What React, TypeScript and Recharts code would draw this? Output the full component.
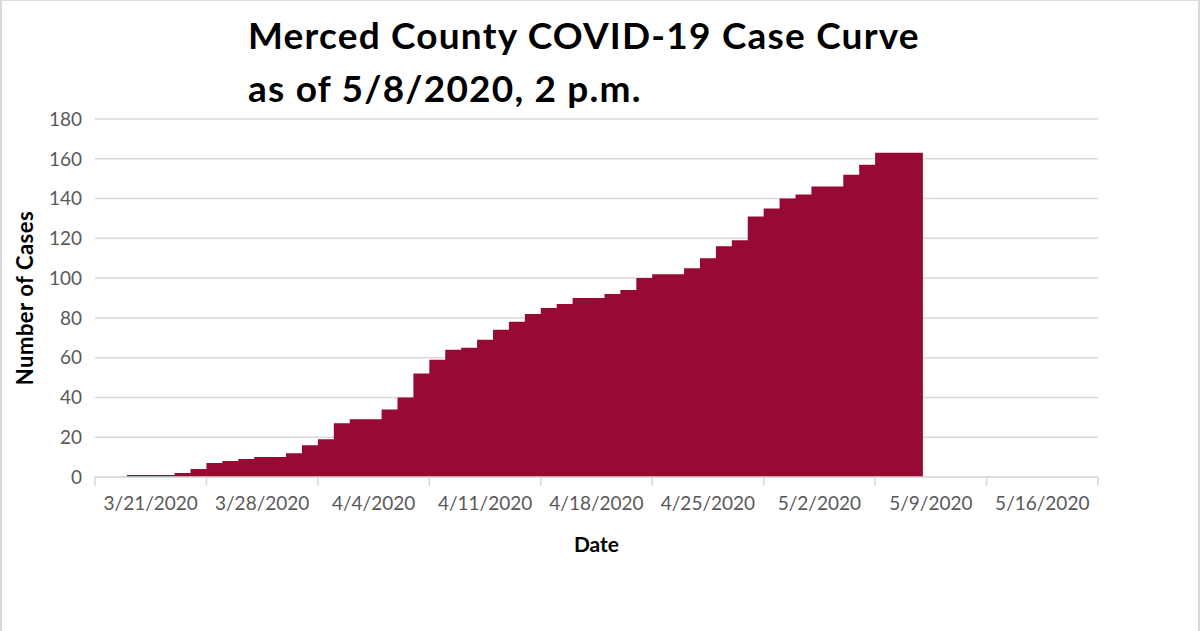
import React from 'react';
import { AreaChart, Area, XAxis, YAxis, CartesianGrid, Label } from 'recharts';

// daily cumulative case counts (Merced County)
const caseDates = [
  '3/23', '3/24', '3/25', '3/26', '3/27', '3/28', '3/29', '3/30', '3/31',
  '4/1', '4/2', '4/3', '4/4', '4/5', '4/6', '4/7', '4/8', '4/9', '4/10',
  '4/11', '4/12', '4/13', '4/14', '4/15', '4/16', '4/17', '4/18', '4/19', '4/20',
  '4/21', '4/22', '4/23', '4/24', '4/25', '4/26', '4/27', '4/28', '4/29', '4/30',
  '5/1', '5/2', '5/3', '5/4', '5/5', '5/6', '5/7', '5/8', '5/9', '5/10', '5/11', '5/12',
];
const caseCounts = [
  1, 1, 1, 2, 4, 7, 8, 9, 10,
  10, 12, 16, 19, 27, 29, 29, 34, 40, 52,
  59, 64, 65, 69, 74, 78, 82, 85, 87, 90,
  90, 92, 94, 100, 102, 102, 105, 110, 116, 119,
  131, 135, 140, 142, 146, 146, 152, 157, 163, 163, 163, 163,
];

// week boundaries (tick marks) and week labels (centred between the marks)
const weekStarts = ['3/21', '3/28', '4/4', '4/11', '4/18', '4/25', '5/2', '5/9', '5/16', '5/23'];
const weekLabels = ['3/21/2020', '3/28/2020', '4/4/2020', '4/11/2020', '4/18/2020', '4/25/2020', '5/2/2020', '5/9/2020', '5/16/2020'];
const yTicks = [0, 20, 40, 60, 80, 100, 120, 140, 160, 180];

const FONT = 'Lato, "Open Sans", sans-serif';
const FILL = '#960a34';
const GRID = '#d9d9d9';
const TICK_TEXT = '#595959';

const dayIndex = (md: string) => {
  const [m, d] = md.split('/').map(Number);
  return (Date.UTC(2020, m - 1, d) - Date.UTC(2020, 2, 21)) / 86400000;
};

const data = caseDates.map((d, i) => ({ day: dayIndex(d), cases: caseCounts[i] }));
const markTicks = weekStarts.map(dayIndex);
const labelTicks = weekLabels.map((_, i) => (markTicks[i] + markTicks[i + 1]) / 2);
const xTicks = [...markTicks, ...labelTicks].sort((a, b) => a - b);

const DateTick = ({ x, y, payload }: any) => {
  const v = payload.value;
  const li = labelTicks.indexOf(v);
  if (li === -1) {
    return <line x1={x} x2={x} y1={y - 9} y2={y} stroke={GRID} strokeWidth={1.5} />;
  }
  return (
    <text x={x} y={y + 24} textAnchor="middle" fill={TICK_TEXT} fontSize={19} fontFamily={FONT}>
      {weekLabels[li]}
    </text>
  );
};

const YTitle = ({ viewBox }: any) => {
  const cx = viewBox.x + 33;
  const cy = viewBox.y + viewBox.height / 2;
  return (
    <text
      x={cx}
      y={cy}
      transform={`rotate(-90, ${cx}, ${cy})`}
      textAnchor="middle"
      fontFamily={FONT}
      fontWeight={700}
      fontSize={22}
      letterSpacing={0.5}
      fill="#000"
    >
      Number of Cases
    </text>
  );
};

const XTitle = ({ viewBox }: any) => (
  <text
    x={viewBox.x + viewBox.width / 2}
    y={viewBox.y + 75}
    textAnchor="middle"
    fontFamily={FONT}
    fontWeight={700}
    fontSize={21}
    fill="#000"
  >
    Date
  </text>
);

export default function App() {
  return (
    <div
      style={{
        position: 'absolute',
        left: 0,
        top: 0,
        width: 1200,
        height: 631,
        background: '#fff',
        boxSizing: 'border-box',
        borderLeft: `2px solid ${GRID}`,
        borderRight: `2px solid ${GRID}`,
        borderTop: `1px solid ${GRID}`,
        fontFamily: FONT,
      }}
    >
      <div
        style={{
          position: 'absolute',
          left: 246,
          top: 7,
          fontSize: 37,
          lineHeight: '53px',
          letterSpacing: 1.2,
          fontWeight: 700,
          color: '#000',
          whiteSpace: 'nowrap',
        }}
      >
        Merced County COVID-19 Case Curve
        <br />
        as of 5/8/2020, 2 p.m.
      </div>
      <div style={{ position: 'absolute', left: -2, top: -1 }}>
        <AreaChart
          width={1200}
          height={631}
          data={data}
          margin={{ top: 119, right: 102, left: 0, bottom: 0 }}
        >
          <CartesianGrid vertical={false} stroke={GRID} strokeWidth={1.5} />
          <XAxis
            dataKey="day"
            type="number"
            domain={[0, 63]}
            ticks={xTicks}
            height={154}
            axisLine={{ stroke: GRID, strokeWidth: 1.5 }}
            tickLine={false}
            tickSize={9}
            tickMargin={0}
            tick={<DateTick />}
            interval={0}
          >
            <Label content={<XTitle />} />
          </XAxis>
          <YAxis
            domain={[0, 180]}
            ticks={yTicks}
            width={95}
            axisLine={false}
            tickLine={false}
            tickSize={6}
            tickMargin={7}
            tick={{ fill: TICK_TEXT, fontSize: 19, fontFamily: FONT }}
            interval={0}
          >
            <Label content={<YTitle />} />
          </YAxis>
          <Area
            type="stepAfter"
            dataKey="cases"
            stroke="none"
            fill={FILL}
            fillOpacity={1}
            isAnimationActive={false}
          />
        </AreaChart>
      </div>
    </div>
  );
}
